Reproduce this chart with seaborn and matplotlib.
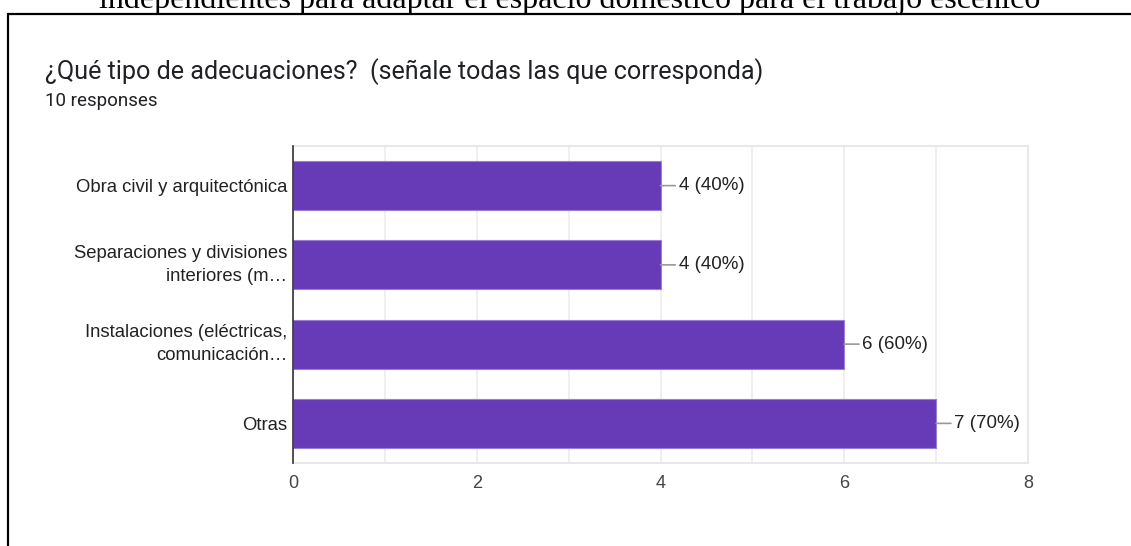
import matplotlib
matplotlib.use("Agg")
import matplotlib.pyplot as plt
from matplotlib.lines import Line2D
import seaborn as sns
import pandas as pd

# ---- data ----
categories = [
    "Obra civil y arquitectónica",
    "Separaciones y divisiones\ninteriores (m…",
    "Instalaciones (eléctricas,\ncomunicación…",
    "Otras",
]
counts = [4, 4, 6, 7]
total_responses = 10
x_ticks = [0, 2, 4, 6, 8]
title = "¿Qué tipo de adecuaciones?  (señale todas las que corresponda)"
subtitle = "10 responses"
page_text = "independientes para adaptar el espacio doméstico para el trabajo escénico"

df = pd.DataFrame({"cat": categories, "n": counts})

sns.set_theme(style="white")
plt.rcParams["font.family"] = ["Liberation Sans", "DejaVu Sans"]

W, H = 1131, 546
fig = plt.figure(figsize=(W / 100, H / 100), dpi=100)
fig.patch.set_facecolor("white")

# axes in pixel coordinates
ax_l, ax_r, ax_t, ax_b = 293, 1028, 146, 463
ax = fig.add_axes([ax_l / W, 1 - ax_b / H, (ax_r - ax_l) / W, (ax_b - ax_t) / H])

sns.barplot(data=df, y="cat", x="n", orient="h", color="#673ab7", saturation=1,
            width=0.62, edgecolor="#9a7fd6", linewidth=0.8, ax=ax, zorder=3)

ax.set_xlim(0, 8)
ax.set_ylim(3.5, -0.5)
ax.set_xlabel("")
ax.set_ylabel("")

# gridlines at every unit
for g in range(0, 9):
    ax.axvline(g, color="#ececec", lw=1.2, zorder=0)

ax.set_xticks(x_ticks)
ax.set_xticklabels([str(t) for t in x_ticks])
ax.tick_params(axis="x", length=0, pad=9, labelsize=13, labelcolor="#444444")
ax.tick_params(axis="y", length=0, pad=4, labelsize=13.3, labelcolor="#222222")
for lbl in ax.get_yticklabels():
    lbl.set_linespacing(1.5)
    if "\n" in lbl.get_text():
        lbl.set_va("center")

for s in ["top", "right", "bottom"]:
    ax.spines[s].set_color("#e8e8e8")
    ax.spines[s].set_linewidth(1.5)
ax.spines["left"].set_color("#333333")
ax.spines["left"].set_linewidth(1.2)
ax.spines["left"].set_zorder(5)

# value labels with leader line
for i, v in enumerate(counts):
    ax.annotate(f"{v} ({v / total_responses:.0%})", xy=(v, i), xytext=(13, 0),
                textcoords="offset points", ha="left", va="center",
                fontsize=13.5, color="#222222",
                arrowprops=dict(arrowstyle="-", color="#999999", lw=1.2,
                                shrinkA=0, shrinkB=0))

# titles
fig.text(45 / W, 1 - 72 / H, title, ha="left", va="center", fontsize=18.1,
         color="#202124", family=["Roboto", "DejaVu Sans"])
fig.text(45 / W, 1 - 101 / H, subtitle, ha="left", va="center", fontsize=13.5,
         color="#202124", family=["Roboto", "DejaVu Sans"])

# page text (clipped at the top, as in the reference)
fig.text(570 / W, 1 - 8 / H, page_text, ha="center", va="baseline", fontsize=23,
         color="black", family=["Liberation Serif", "DejaVu Serif"])

# border frame
fig.add_artist(Line2D([8 / W, 8 / W], [0, 1 - 14 / H], color="black", lw=1.6,
                      transform=fig.transFigure))
fig.add_artist(Line2D([8 / W, 1], [1 - 14 / H, 1 - 14 / H], color="black", lw=1.6,
                      transform=fig.transFigure))

fig.savefig("out.png", dpi=100)
